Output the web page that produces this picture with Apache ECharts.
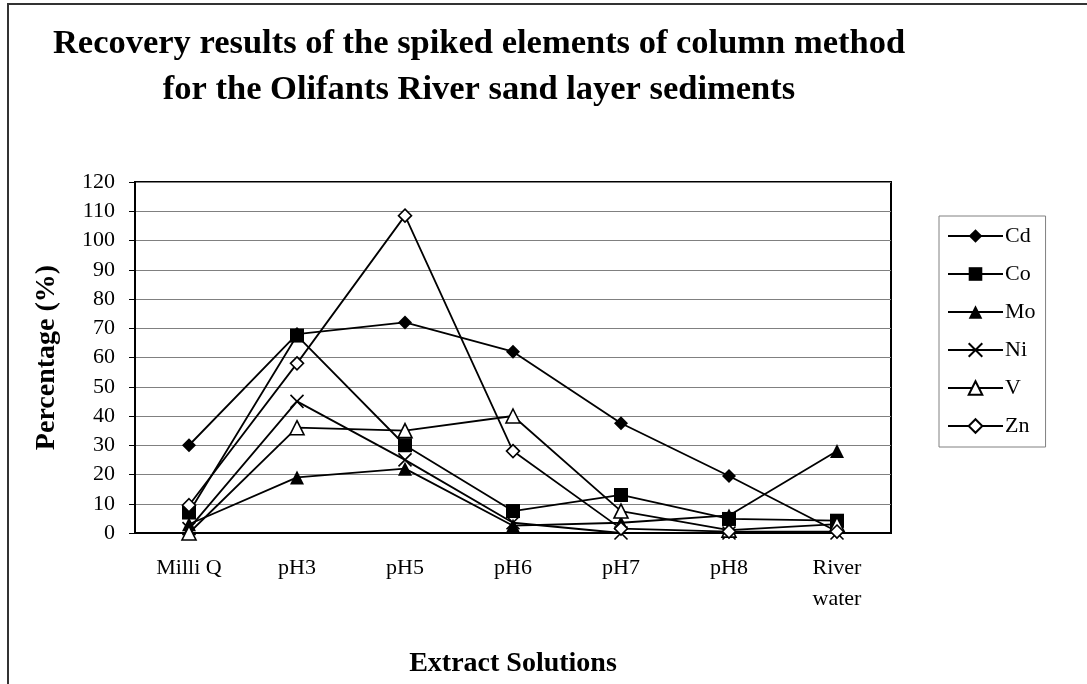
<!DOCTYPE html>
<html>
<head>
<meta charset="utf-8">
<title>Recovery results</title>
<script src="https://cdn.jsdelivr.net/npm/echarts@6/dist/echarts.min.js"></script>
<style>
  html, body { margin: 0; padding: 0; background: #fff; }
  #chart { width: 1087px; height: 684px; }
</style>
</head>
<body>
<div id="chart"></div>
<script>
// extract solutions on the x axis
const solutions = ['Milli Q', 'pH3', 'pH5', 'pH6', 'pH7', 'pH8', 'River\nwater']
const yTicks = [0, 10, 20, 30, 40, 50, 60, 70, 80, 90, 100, 110, 120]

// recovery (%) per element
const cd = [30, 68, 72, 62, 37.5, 19.5, 0.5]
const co = [7, 67.5, 30, 7.5, 13, 4.8, 4.2]
const mo = [3, 19, 22, 2.5, 3.5, 6, 28]
const ni = [1.5, 45, 25, 3.5, 0, 0, 0]
const v = [0, 36, 35, 40, 7.5, 1, 3]
const zn = [9.5, 58, 108.5, 28, 1.5, 0.5, 0.5]

const serif = 'Liberation Serif, Times New Roman, serif'
const crossPath = 'path://M0,0L10,10M0,10L10,0'

// one black line per element, only the marker changes
function makeSeries (name, data, symbol, size, filled) {
  return {
    name: name,
    type: 'line',
    data: data,
    symbol: symbol,
    symbolSize: size,
    lineStyle: { color: '#000', width: 1.8 },
    itemStyle: {
      color: filled ? '#000' : '#fff',
      borderColor: '#000',
      borderWidth: filled ? 0 : 1.6
    },
    emphasis: { disabled: true },
    animation: false
  }
}

const chart = echarts.init(document.getElementById('chart'))

const option = {
  backgroundColor: '#fff',
  textStyle: { fontFamily: serif },
  title: {
    text: 'Recovery results of the spiked elements of column method\nfor the Olifants River sand layer sediments',
    left: 474,
    top: 16,
    textAlign: 'center',
    textStyle: {
      fontFamily: serif,
      fontWeight: 'bold',
      fontSize: 34.5,
      lineHeight: 46,
      color: '#000'
    }
  },
  graphic: [
    {
      type: 'rect',
      shape: { x: 8, y: 4, width: 1100, height: 700 },
      style: { fill: 'none', stroke: '#333', lineWidth: 2 },
      silent: true
    }
  ],
  legend: {
    orient: 'vertical',
    left: 939,
    top: 216,
    padding: [9, 10, 10, 8],
    itemWidth: 55,
    itemHeight: 17,
    itemGap: 16,
    borderColor: '#808080',
    borderWidth: 1,
    textStyle: { fontFamily: serif, fontSize: 22, color: '#000', padding: [0, 0, 0, -3] },
    data: ['Cd', 'Co', 'Mo', 'Ni', 'V', 'Zn']
  },
  grid: {
    left: 135,
    top: 182,
    right: 196,
    bottom: 151,
    show: true,
    borderColor: '#000',
    borderWidth: 2
  },
  xAxis: {
    type: 'category',
    data: solutions,
    boundaryGap: true,
    name: 'Extract Solutions',
    nameLocation: 'middle',
    nameGap: 117,
    nameTextStyle: { fontFamily: serif, fontWeight: 'bold', fontSize: 28, color: '#000' },
    axisLine: { lineStyle: { color: '#000', width: 2 } },
    axisTick: { length: 6, lineStyle: { color: '#000', width: 1 } },
    axisLabel: { fontFamily: serif, fontSize: 22, color: '#000', margin: 20, lineHeight: 31 },
    splitLine: { show: false }
  },
  yAxis: {
    type: 'value',
    min: yTicks[0],
    max: yTicks[yTicks.length - 1],
    interval: 10,
    name: 'Percentage (%)',
    nameLocation: 'middle',
    nameGap: 74,
    nameTextStyle: { fontFamily: serif, fontWeight: 'bold', fontSize: 28, color: '#000' },
    axisLine: { show: true, lineStyle: { color: '#000', width: 2 } },
    axisTick: { show: true, length: 6, lineStyle: { color: '#000', width: 1 } },
    axisLabel: { fontFamily: serif, fontSize: 22, color: '#000', margin: 20 },
    splitLine: { show: true, lineStyle: { color: '#808080', width: 1 } }
  },
  series: [
    makeSeries('Cd', cd, 'diamond', 14, true),
    makeSeries('Co', co, 'rect', 14, true),
    makeSeries('Mo', mo, 'triangle', 14, true),
    makeSeries('Ni', ni, crossPath, 13, false),
    makeSeries('V', v, 'triangle', 14, false),
    makeSeries('Zn', zn, 'diamond', 13, false)
  ]
}

chart.setOption(option)
</script>
</body>
</html>
